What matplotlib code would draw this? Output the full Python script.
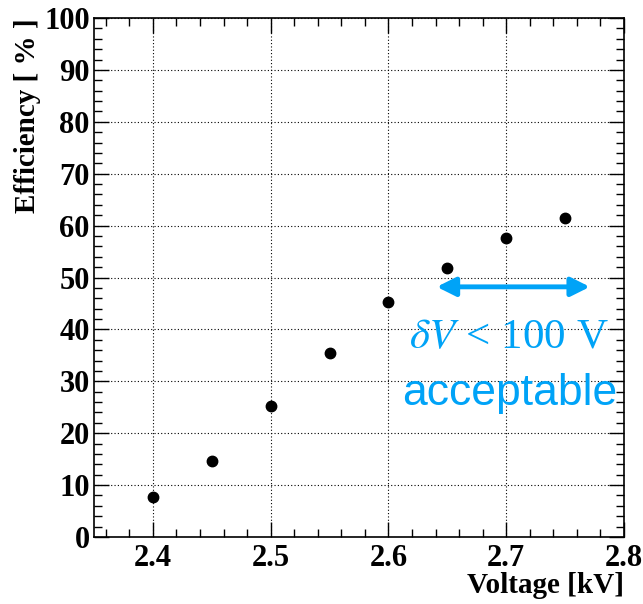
import matplotlib
matplotlib.use("Agg")
import matplotlib.pyplot as plt
from matplotlib.ticker import MultipleLocator

voltage = [2.40, 2.45, 2.50, 2.55, 2.60, 2.65, 2.70, 2.75]
efficiency = [7.7, 14.6, 25.3, 35.4, 45.2, 51.9, 57.7, 61.5]
arrow_range = [2.641, 2.771]
arrow_level = 48.2

plt.rcParams['mathtext.fontset'] = 'stix'
serif = 'Liberation Serif'
blue = '#00a3f7'

fig = plt.figure(figsize=(6.43, 6.04), dpi=100)
ax = fig.add_axes([0.1462, 0.1109, 0.8243, 0.8593])

ax.plot(voltage, efficiency, 'o', color='black', markersize=7.5, zorder=5)

ax.set_xlim(2.35, 2.8)
ax.set_ylim(0, 100)
ax.xaxis.set_major_locator(MultipleLocator(0.1))
ax.xaxis.set_minor_locator(MultipleLocator(0.02))
ax.yaxis.set_major_locator(MultipleLocator(10))
ax.yaxis.set_minor_locator(MultipleLocator(2))
ax.tick_params(which='both', direction='in', top=True, right=True, width=1.0)
ax.tick_params(which='major', length=11)
ax.tick_params(axis='x', which='major', pad=5)
ax.tick_params(axis='y', which='major', pad=3)
ax.tick_params(which='minor', length=5.5)
ax.grid(True, which='major', linestyle=(0, (1, 2)), color='black', linewidth=0.8)
for s in ax.spines.values():
    s.set_linewidth(1.2)

for lab in ax.get_xticklabels() + ax.get_yticklabels():
    lab.set_fontfamily(serif)
    lab.set_fontweight('bold')
    lab.set_fontsize(22)

ax.set_xlabel('Voltage [kV]', fontfamily=serif, fontweight='bold', fontsize=21,
              loc='right', labelpad=-1)
ax.set_ylabel('Efficiency [ % ]', fontfamily=serif, fontweight='bold', fontsize=21,
              loc='top', labelpad=2)

ax.annotate('', xy=(arrow_range[0], arrow_level), xytext=(arrow_range[1], arrow_level),
            arrowprops=dict(arrowstyle='<|-|>', color=blue, lw=3.5, mutation_scale=28,
                            shrinkA=0, shrinkB=0), zorder=6)
ax.text(2.702, 38.3, r'$\delta V$ < 100 V', color=blue, fontsize=31, fontfamily=serif,
        ha='center', va='center', zorder=6)
ax.text(2.703, 27.6, 'acceptable', color=blue, fontsize=32, fontfamily='Liberation Sans',
        ha='center', va='center', zorder=6)

fig.savefig('out.png', dpi=100)
